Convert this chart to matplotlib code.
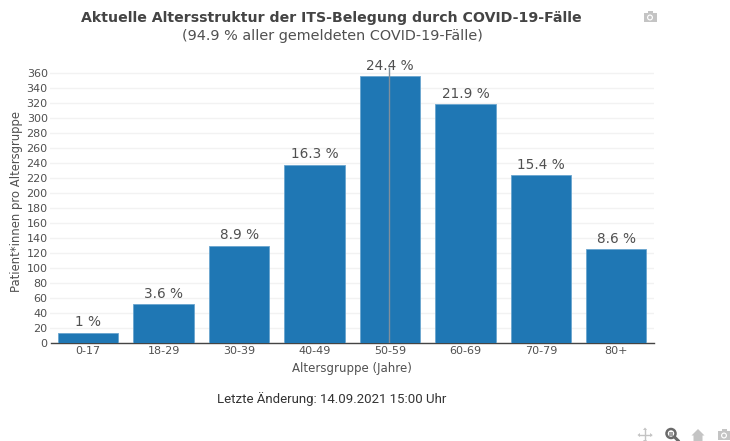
import matplotlib
matplotlib.use('Agg')
import matplotlib.pyplot as plt
from matplotlib.patches import Circle, Rectangle, Polygon

# Werte
age_groups = ['0-17', '18-29', '30-39', '40-49', '50-59', '60-69', '70-79', '80+']
patients = [14, 52, 130, 238, 356, 319, 224, 125]
percent = ['1 %', '3.6 %', '8.9 %', '16.3 %', '24.4 %', '21.9 %', '15.4 %', '8.6 %']
y_ticks = list(range(0, 361, 20))
spike_group = '50-59'

W, H = 730, 441
GREY = '#505050'
ICON = '#c4c4c4'

fig = plt.figure(figsize=(W / 100, H / 100), dpi=100)
ax = fig.add_axes([50.5 / W, 1 - 343 / H, 603.5 / W, 283 / H])

ax.bar(age_groups, patients, width=0.8, color='#1f77b4', edgecolor='#6aa5cf', linewidth=0.6, zorder=3)
ax.set_xlim(-0.5, 7.5)
ax.set_ylim(0, 378)
ax.axvline(age_groups.index(spike_group) - 0.01, ymax=275 / 283, color='#7f8f9c', lw=1, zorder=5)

for i, (v, p) in enumerate(zip(patients, percent)):
    ax.annotate(p, (i, v), xytext=(0, 2.5), textcoords='offset points', ha='center', va='bottom',
                fontsize=9.8, color=GREY, zorder=6)

ax.set_yticks(y_ticks)
ax.grid(axis='y', color='#f2f2f2', lw=1, zorder=0)
ax.tick_params(axis='both', length=0, labelsize=8, labelcolor=GREY)
ax.tick_params(axis='y', pad=2)
ax.tick_params(axis='x', pad=2.5)
for s in ['top', 'right', 'left']:
    ax.spines[s].set_visible(False)
ax.spines['bottom'].set_color('#444444')
ax.spines['bottom'].set_linewidth(1)

ax.set_xlabel('Altersgruppe (Jahre)', fontsize=8.5, color=GREY, labelpad=4)
ax.set_ylabel('Patient*innen pro Altersgruppe', fontsize=8.4, color=GREY, labelpad=2.3)

fig.text(331 / W, 1 - 18 / H, 'Aktuelle Altersstruktur der ITS-Belegung durch COVID-19-Fälle', ha='center',
         va='center', fontsize=10.2, fontweight='bold', color='#444444')
fig.text(332 / W, 1 - 36 / H, '(94.9 % aller gemeldeten COVID-19-Fälle)', ha='center', va='center',
         fontsize=10.4, color=GREY)
fig.text(331.5 / W, 1 - 399 / H, 'Letzte Änderung: 14.09.2021 15:00 Uhr', ha='center', va='center',
         fontsize=9.55, color='#333333', family='Roboto')

# Symbole der Werkzeugleiste, Koordinaten in Pixeln
icons = fig.add_axes([0, 0, 1, 1], facecolor='none')
icons.set_xlim(0, W)
icons.set_ylim(H, 0)
icons.axis('off')


def camera(x, y):
    icons.add_patch(Rectangle((x - 6.5, y - 4), 13, 9, color=ICON, lw=0))
    icons.add_patch(Rectangle((x - 2.5, y - 6), 5, 2, color=ICON, lw=0))
    icons.add_patch(Circle((x, y + 0.5), 3, color='white', lw=0))
    icons.add_patch(Circle((x, y + 0.5), 1.8, color=ICON, lw=0))


camera(650, 17)
camera(724, 435)

# verschieben
icons.plot([639, 651], [435, 435], color=ICON, lw=1)
icons.plot([645, 645], [429, 441], color=ICON, lw=1)
for pts in ([(637.5, 435), (640, 433), (640, 437)], [(652.5, 435), (650, 433), (650, 437)],
            [(645, 427.5), (643, 430), (647, 430)], [(645, 442.5), (643, 440), (647, 440)]):
    icons.add_patch(Polygon(pts, color=ICON, lw=0))

# Zoom (aktiv)
icons.add_patch(Circle((671, 433.5), 4.5, fill=False, ec='#6a6a6a', lw=1.8))
icons.add_patch(Rectangle((669, 431.5), 4, 4, color='#a0a0a0', lw=0))
icons.plot([674.5, 678], [437, 440.5], color='#6a6a6a', lw=2.2)

# Home
icons.add_patch(Polygon([(698, 429), (691.5, 435.5), (693.5, 435.5), (693.5, 441), (702.5, 441), (702.5, 435.5),
                         (704.5, 435.5)], color=ICON, lw=0))

fig.savefig('out.png', dpi=100, facecolor='white')
